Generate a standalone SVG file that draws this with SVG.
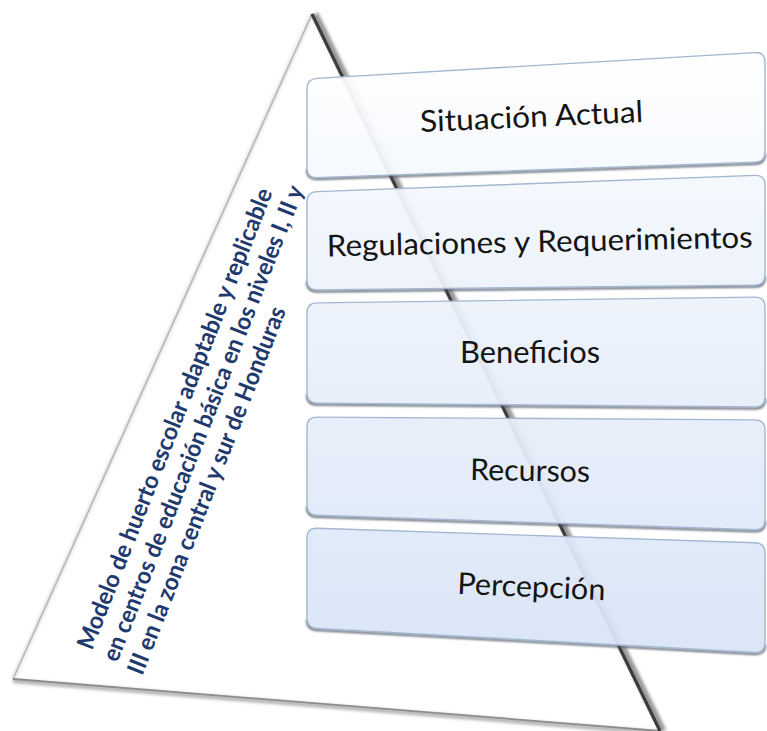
<svg xmlns="http://www.w3.org/2000/svg" width="767" height="731" viewBox="0 0 767 731">
<defs>
<linearGradient id="boxfill" gradientUnits="userSpaceOnUse" x1="0" y1="50" x2="0" y2="655">
<stop offset="0" stop-color="#ffffff"/>
<stop offset="0.3" stop-color="#f0f5fc"/>
<stop offset="1" stop-color="#d8e4f6"/>
</linearGradient>
<filter id="blur1" x="-5%" y="-5%" width="110%" height="110%">
<feGaussianBlur stdDeviation="1.5"/>
</filter>
<filter id="blur2" x="-5%" y="-50%" width="110%" height="200%">
<feGaussianBlur stdDeviation="0.8"/>
</filter>
</defs>
<style>
.box{fill:url(#boxfill);fill-opacity:0.94;stroke:#a3b7d1;stroke-width:1.4}
.bsh{fill:none;stroke:#4e5966;stroke-width:2;filter:url(#blur2)}
.lbl{font-family:Lato,"Liberation Sans",sans-serif;font-size:30px;fill:#141414;text-anchor:middle}
.ttl{font-family:Lato,"Liberation Sans",sans-serif;font-size:24px;font-weight:bold;fill:#1f3a6e}
</style>
<g id="pyramid">
<line x1="312" y1="14" x2="13" y2="679" stroke="#e2e2e2" stroke-width="4" filter="url(#blur1)"/>
<line x1="312" y1="14" x2="13" y2="679" stroke="#b8b8b8" stroke-width="1.6"/>
<line x1="13" y1="681" x2="660" y2="733" stroke="#b0b0b0" stroke-width="4" filter="url(#blur1)"/>
<line x1="13" y1="679" x2="660" y2="731" stroke="#8c8c8c" stroke-width="1.8"/>
<line x1="315" y1="14" x2="663" y2="731" stroke="#9a9a9a" stroke-width="7" filter="url(#blur1)"/>
<line x1="312" y1="14" x2="660" y2="731" stroke="#3c3c3c" stroke-width="3.2"/>
</g>
<g id="title">
<g transform="translate(92,651) rotate(-68.5)">
<text class="ttl" x="0" y="0" textLength="493" lengthAdjust="spacingAndGlyphs">Modelo de huerto escolar adaptable y replicable</text>
<text class="ttl" x="-2" y="28" textLength="509" lengthAdjust="spacingAndGlyphs">en centros de educación básica en los niveles I, II y</text>
<text class="ttl" x="-5" y="56" textLength="393" lengthAdjust="spacingAndGlyphs">III en la zona central y sur de Honduras</text>
</g>
</g>
<g id="box1">
<path class="bsh" transform="translate(0,1.5)" d="M765,152 Q765,162 755,162.3 L317,177.6 Q307,178 307,168"/>
<path class="box" d="M307,89 Q307,79 317,78.4 L755,52.6 Q765,52 765,62 L765,152 Q765,162 755,162.3 L317,177.6 Q307,178 307,168 Z"/>
<text class="lbl" x="532" y="127" textLength="223" lengthAdjust="spacingAndGlyphs" transform="rotate(-2.6 532 127)">Situación Actual</text>
</g>
<g id="box2">
<path class="bsh" transform="translate(0,1.5)" d="M765,275 Q765,285 755,285.1 L317,289.9 Q307,290 307,280"/>
<path class="box" d="M307,202 Q307,192 317,191.6 L755,175.4 Q765,175 765,185 L765,275 Q765,285 755,285.1 L317,289.9 Q307,290 307,280 Z"/>
<text class="lbl" x="540" y="252" textLength="426" lengthAdjust="spacingAndGlyphs" transform="rotate(-1.2 540 252)">Regulaciones y Requerimientos</text>
</g>
<g id="box3">
<path class="bsh" transform="translate(0,1.5)" d="M765,397 Q765,407 755,406.9 L317,403.1 Q307,403 307,393"/>
<path class="box" d="M307,313 Q307,303 317,302.9 L755,297.1 Q765,297 765,307 L765,397 Q765,407 755,406.9 L317,403.1 Q307,403 307,393 Z"/>
<text class="lbl" x="530" y="363" textLength="140" lengthAdjust="spacingAndGlyphs">Beneficios</text>
</g>
<g id="box4">
<path class="bsh" transform="translate(0,1.5)" d="M765,520 Q765,530 755,529.7 L317,515.3 Q307,515 307,505"/>
<path class="box" d="M307,427 Q307,417 317,417.1 L755,419.9 Q765,420 765,430 L765,520 Q765,530 755,529.7 L317,515.3 Q307,515 307,505 Z"/>
<text class="lbl" x="530" y="481" textLength="120" lengthAdjust="spacingAndGlyphs" transform="rotate(0.9 530 481)">Recursos</text>
</g>
<g id="box5">
<path class="bsh" transform="translate(0,1.5)" d="M765,643 Q765,653 755,652.5 L317,628.5 Q307,628 307,618"/>
<path class="box" d="M307,538 Q307,528 317,528.3 L755,542.7 Q765,543 765,553 L765,643 Q765,653 755,652.5 L317,628.5 Q307,628 307,618 Z"/>
<text class="lbl" x="531" y="597" textLength="148" lengthAdjust="spacingAndGlyphs" transform="rotate(2.6 531 597)">Percepción</text>
</g>
</svg>
